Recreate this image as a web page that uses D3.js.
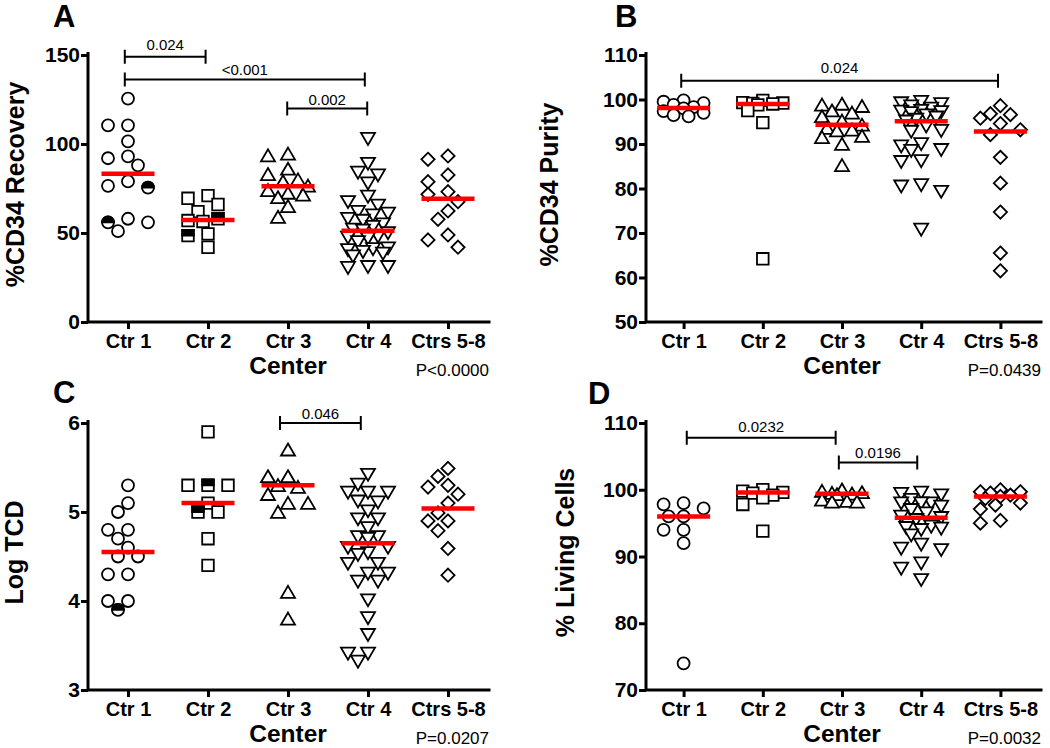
<!DOCTYPE html>
<html><head><meta charset="utf-8">
<script src="https://cdn.jsdelivr.net/npm/d3@7"></script>
<style>
body{margin:0;background:#fff}
svg{display:block}
text{font-family:"Liberation Sans",Arial,Helvetica,sans-serif;fill:#000}
</style>
</head><body>
<svg id="chart" width="1050" height="748"></svg>
<script>
const categories = ["Ctr 1","Ctr 2","Ctr 3","Ctr 4","Ctrs 5-8"];
const shapes = ["circle","square","triangle","triangleDown","diamond"];

// Panel A: %CD34 Recovery
const recoveryValues = [
  [125.5,110.5,110.5,101.5,93,92,88,79,76.5,75.5,58,56,56,51],
  [71,69.5,66,62,58,57,56.5,49.5,48.5,42],
  [94.5,93.5,86,83,80,79,76.5,74,72.5,71.5,70,65,59],
  [103,89,84,82.5,78,70.5,67.5,65.5,62,61,60,58,57,55,53.5,52,51.5,50,48,47.5,47,45,41.5,41,40.5,39.5,38.5,37,31,30.5,31],
  [93.3,91.4,82.6,78.8,73.2,71.7,67.6,62.4,57.7,48.9,46.1,42]
];
const recoveryHalf = [[75.5,56],[58,48.5],[],[],[]];
const recoveryMedians = [83.3,57.3,76.2,51.3,69.3];
const recoveryTicks = [0,50,100,150];
const recoveryBrackets = [
  {from:-0.04,to:0.97,y:149,labelY:153,label:"0.024"},
  {from:-0.04,to:2.96,y:136.3,labelY:138.8,label:"<0.001"},
  {from:1.99,to:2.99,y:120,labelY:121.9,label:"0.002"}
];

// Panel B: %CD34 Purity
const purityValues = [
  [99.8,99.5,99.2,98.8,98.3,98,97.4,97,96.5,96.2],
  [99.8,99.3,99.2,99.1,99,98.8,97.5,94.8,64.2],
  [99,98.8,98.5,97.5,97,96.2,95.2,94.3,93.6,93.2,93,91.8,91.5,90,85.2],
  [99.5,99.2,99,98.5,98,97.5,97.3,97.2,97,96.5,96,95.5,95.1,94,93,92.8,90,89.5,88.7,88.5,86.2,86,80.8,80.5,79.3,70.8],
  [98.6,96.8,96.6,95.8,94.6,93.2,92.1,87,81.2,74.7,65.5,61.5]
];
const purityHalf = [[],[],[],[],[]];
const purityMedians = [98.1,99.0,94.3,95.1,92.8];
const purityTicks = [50,60,70,80,90,100,110];
const purityBrackets = [
  {from:-0.03,to:3.97,y:104.2,labelY:106,label:"0.024"}
];

// Panel C: Log TCD
const tcdValues = [
  [5.3,5.1,5.0,4.8,4.8,4.7,4.6,4.5,4.5,4.3,4.3,4.0,4.0,3.9],
  [5.9,5.3,5.3,5.3,5.1,5.0,5.0,4.7,4.4],
  [5.7,5.4,5.4,5.3,5.28,5.2,5.1,5.1,5.0,4.1,3.8],
  [5.42,5.31,5.22,5.22,5.22,5.12,5.11,5.01,4.92,4.92,4.82,4.72,4.72,4.7,4.6,4.6,4.54,4.52,4.42,4.42,4.31,4.31,4.22,4.22,4.01,3.81,3.62,3.41,3.41,3.32],
  [5.49,5.4,5.3,5.28,5.2,5.1,4.99,4.9,4.9,4.79,4.59,4.29]
];
const tcdHalf = [[3.9],[5.3,5.0],[],[],[]];
const tcdMedians = [4.55,5.1,5.3,4.65,5.04];
const tcdTicks = [3,4,5,6];
const tcdBrackets = [
  {from:1.9,to:2.91,y:6.0,labelY:6.045,label:"0.046"}
];

// Panel D: % Living Cells
const livingValues = [
  [98,97.8,97.2,96,96,94,94,92,74],
  [100,99.8,99.6,99.5,99.2,98.8,97.8,93.8],
  [100,99.8,99.6,99.5,99.4,99.3,98.5,98.3,98.2,98.2],
  [99.6,99.4,99.2,98.5,98,98,98,97.5,97,96.5,96,95.8,95.5,94.5,94.3,94.2,94,93.2,91.8,91.2,91,89,88.2,86.5],
  [100,99.7,99.7,99.5,99.2,99,98.7,98,97.7,97.1,95.4,95]
];
const livingHalf = [[],[],[],[],[]];
const livingMedians = [96.0,99.6,99.4,95.8,99.0];
const livingTicks = [70,80,90,100,110];
const livingBrackets = [
  {from:0.04,to:1.92,y:107.8,labelY:108.65,label:"0.0232"},
  {from:1.96,to:2.95,y:104.1,labelY:104.75,label:"0.0196"}
];

const panels = [
  {letter:"A",values:recoveryValues,half:recoveryHalf,medians:recoveryMedians,ticks:recoveryTicks,brackets:recoveryBrackets,
   domain:[0,150],title:"%CD34 Recovery",p:"P<0.0000",axisX:88,xRange:[88,488],top:55,bottom:322,titleX:24,letterX:53,letterY:27},
  {letter:"B",values:purityValues,half:purityHalf,medians:purityMedians,ticks:purityTicks,brackets:purityBrackets,
   domain:[50,110],title:"%CD34 Purity",p:"P=0.0439",axisX:646,xRange:[644,1040],top:55,bottom:322,titleX:558,letterX:615,letterY:27},
  {letter:"C",values:tcdValues,half:tcdHalf,medians:tcdMedians,ticks:tcdTicks,brackets:tcdBrackets,
   domain:[3,6],title:"Log TCD",p:"P=0.0207",axisX:88,xRange:[88,488],top:423,bottom:690,titleX:23,letterX:53,letterY:403},
  {letter:"D",values:livingValues,half:livingHalf,medians:livingMedians,ticks:livingTicks,brackets:livingBrackets,
   domain:[70,110],title:"% Living Cells",p:"P=0.0032",axisX:646,xRange:[644,1040],top:423,bottom:690,titleX:574,letterX:588,letterY:404}
];

const svg = d3.select("#chart");

function shapePath(shape){
  switch(shape){
    case "circle": return "M-6,0A6,6 0 1,1 6,0A6,6 0 1,1 -6,0Z";
    case "square": return "M-5.8,-5.8H5.8V5.8H-5.8Z";
    case "triangle": return "M0,-6.2L7,5.8L-7,5.8Z";
    case "triangleDown": return "M-7,-5.8L7,-5.8L0,6.2Z";
    case "diamond": return "M0,-6.6L6.6,0L0,6.6L-6.6,0Z";
  }
}
function halfPath(shape){
  if(shape==="circle") return "M-6,0A6,6 0 0,1 6,0Z";
  if(shape==="square") return "M-5.8,-5.8H5.8V0H-5.8Z";
  return null;
}

function swarm(vals, y, cx){
  const order = vals.map((v,i)=>i).sort((a,b)=>vals[b]-vals[a]);
  const cands = [0,-10,10,-20,20,-5,5,-15,15];
  const placed = [];
  const res = new Array(vals.length);
  for(const i of order){
    const py = y(vals[i]);
    let best = 0, bestD = -1;
    for(const o of cands){
      let md = Infinity;
      for(const p of placed){ const d = Math.hypot(p.o-o, p.y-py); if(d<md) md=d; }
      if(md >= 12.5){ best=o; bestD=md; break; }
      if(md > bestD){ bestD=md; best=o; }
    }
    placed.push({o:best,y:py});
    res[i] = {x:cx+best, y:py};
  }
  return res;
}

panels.forEach(cfg=>{
  const g = svg.append("g");
  const x = d3.scalePoint().domain(categories).range(cfg.xRange).padding(0.5);
  const step = x.step();
  const xi = i => x(categories[0]) + i*step;
  const y = d3.scaleLinear().domain(cfg.domain).range([cfg.bottom, cfg.top]);
  const xEnd = cfg.xRange[1] + 1;

  // y axis
  const ya = g.append("g").attr("transform",`translate(${cfg.axisX},0)`)
    .call(d3.axisLeft(y).tickValues(cfg.ticks).tickSize(7).tickSizeOuter(0).tickPadding(1).tickFormat(d3.format("d")));
  ya.select(".domain").remove();
  ya.selectAll(".tick line").attr("stroke","#000").attr("stroke-width",3);
  ya.selectAll(".tick text").attr("font-size",21).attr("font-weight","bold")
    .attr("font-family","'Liberation Sans',Arial,sans-serif").attr("fill","#000");

  // x axis
  const xa = g.append("g").attr("transform",`translate(0,${cfg.bottom})`)
    .call(d3.axisBottom(x).tickSize(7).tickSizeOuter(0).tickPadding(5));
  xa.select(".domain").remove();
  xa.selectAll(".tick line").attr("stroke","#000").attr("stroke-width",3);
  xa.selectAll(".tick text").attr("font-size",20).attr("font-weight","bold")
    .attr("font-family","'Liberation Sans',Arial,sans-serif").attr("fill","#000");

  // axis lines
  g.append("path")
    .attr("d",`M${cfg.axisX},${cfg.top-1.5}V${cfg.bottom}H${xEnd}`)
    .attr("fill","none").attr("stroke","#000").attr("stroke-width",3).attr("stroke-linecap","square");

  // points
  cfg.values.forEach((vals,i)=>{
    const shape = shapes[i];
    const pos = swarm(vals, y, x(categories[i]));
    const halfVals = cfg.half[i].slice();
    const isHalf = vals.map(v=>{ const k = halfVals.indexOf(v); if(k>=0){ halfVals.splice(k,1); return true;} return false; });
    const pts = g.append("g").selectAll("g").data(vals).join("g")
      .attr("transform",(d,j)=>`translate(${pos[j].x},${pos[j].y})`);
    pts.append("path").attr("d",shapePath(shape))
      .attr("fill","#fff").attr("stroke","#000").attr("stroke-width",1.8);
    pts.filter((d,j)=>isHalf[j]).append("path").attr("d",halfPath(shape))
      .attr("fill","#000").attr("stroke","#000").attr("stroke-width",1.8);
  });

  // medians
  g.append("g").selectAll("line").data(cfg.medians).join("line")
    .attr("x1",(d,i)=>x(categories[i])-26.5).attr("x2",(d,i)=>x(categories[i])+26.5)
    .attr("y1",d=>y(d)).attr("y2",d=>y(d))
    .attr("stroke","#ff0000").attr("stroke-width",4.5);

  // brackets
  cfg.brackets.forEach(b=>{
    const x1 = xi(b.from), x2 = xi(b.to), yy = y(b.y);
    g.append("path").attr("d",`M${x1},${yy-7}V${yy+7}M${x1},${yy}H${x2}M${x2},${yy-7}V${yy+7}`)
      .attr("fill","none").attr("stroke","#000").attr("stroke-width",2);
    g.append("text").attr("x",(x1+x2)/2).attr("y",y(b.labelY)).attr("text-anchor","middle")
      .attr("font-size",15).text(b.label);
  });

  // y title
  const cy = (cfg.top+cfg.bottom)/2 - 4;
  g.append("text").attr("transform",`translate(${cfg.titleX},${cy}) rotate(-90)`)
    .attr("text-anchor","middle").attr("font-size",25).attr("font-weight","bold").text(cfg.title);

  // x title
  g.append("text").attr("x",x(categories[2])).attr("y",cfg.bottom+52).attr("text-anchor","middle")
    .attr("font-size",24.5).attr("font-weight","bold").text("Center");

  // p value
  g.append("text").attr("x",xEnd).attr("y",cfg.bottom+54).attr("text-anchor","end")
    .attr("font-size",17).text(cfg.p);

  // panel letter
  g.append("text").attr("x",cfg.letterX).attr("y",cfg.letterY)
    .attr("font-size",31).attr("font-weight","bold").text(cfg.letter);
});
</script>
</body></html>
